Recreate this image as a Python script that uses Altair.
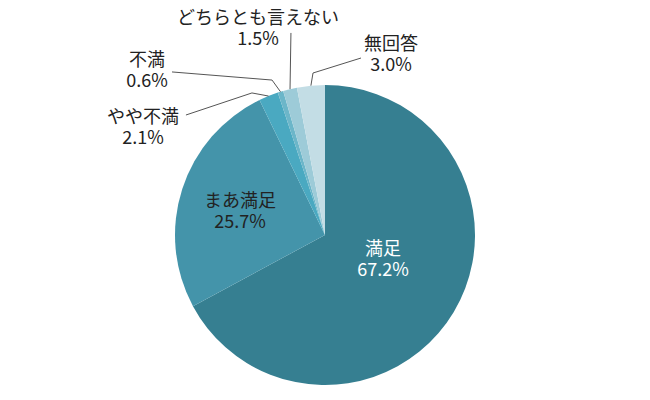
import math
import altair as alt
import pandas as pd

# ---- data ----
categories = ["満足", "まあ満足", "やや不満", "不満", "どちらとも言えない", "無回答"]
values = [67.2, 25.7, 2.1, 0.6, 1.5, 3.0]
pct_labels = ["67.2%", "25.7%", "2.1%", "0.6%", "1.5%", "3.0%"]

# ---- styling / layout (pie-radius units, y pointing down) ----
colors = ["#367f91", "#4494aa", "#4aa9c1", "#6cb6c9", "#9dcbd8", "#c3dde5"]
label_x = [0.387, -0.567, -1.213, -1.187, -0.447, 0.44]
label_y = [0.17, -0.15, -0.707, -1.093, -1.37, -1.197]
label_color = ["#ffffff", "#222222", "#222222", "#222222", "#222222", "#222222"]
# leader lines: elbow (None = straight) and end point, for outside labels
elbow_pts = {"やや不満": (-0.487, -0.947), "不満": (-0.353, -1.033), "無回答": (-0.08, -1.08)}
end_pts = {"やや不満": (-0.927, -0.8), "不満": (-1.02, -1.087),
           "どちらとも言えない": (-0.227, -1.347), "無回答": (0.24, -1.18)}

W, H = 650, 400
CX, CY, R = 325, 235, 150
FONT = "Noto Sans CJK JP"
FS = 18

df = pd.DataFrame({"cat": categories, "val": values, "order": range(len(categories)),
                   "pct": pct_labels, "lx": label_x, "ly": label_y, "tc": label_color})

# leader line points, starting on the pie edge at each slice's mid angle
total = sum(values)
rows = []
cum = 0.0
for c, v in zip(categories, values):
    mid = (cum + v / 2) / total * 2 * math.pi
    cum += v
    if c not in end_pts:
        continue
    pts = [(math.sin(mid), -math.cos(mid))]
    if c in elbow_pts:
        pts.append(elbow_pts[c])
    pts.append(end_pts[c])
    for i, (px, py) in enumerate(pts):
        rows.append({"cat": c, "i": i, "px": px, "py": py})
lines_df = pd.DataFrame(rows)

xs = alt.Scale(domain=[-CX / R, (W - CX) / R], zero=False, nice=False)
ys = alt.Scale(domain=[-CY / R, (H - CY) / R], zero=False, nice=False, reverse=True)

pie = alt.Chart(df).mark_arc(outerRadius=R).encode(
    theta=alt.Theta("val:Q", stack=True),
    order=alt.Order("order:Q"),
    color=alt.Color("cat:N", scale=alt.Scale(domain=categories, range=colors), legend=None),
    x=alt.value(CX),
    y=alt.value(CY),
)

leaders = alt.Chart(lines_df).mark_line(color="#555555", strokeWidth=1).encode(
    x=alt.X("px:Q", scale=xs, axis=None),
    y=alt.Y("py:Q", scale=ys, axis=None),
    detail="cat:N",
    order="i:Q",
)

names = alt.Chart(df).mark_text(font=FONT, fontSize=FS, dy=-10.5, align="center", baseline="middle").encode(
    x=alt.X("lx:Q", scale=xs, axis=None),
    y=alt.Y("ly:Q", scale=ys, axis=None),
    text="cat:N",
    color=alt.Color("tc:N", scale=None),
)
pcts = alt.Chart(df).mark_text(font=FONT, fontSize=FS, dy=10.5, align="center", baseline="middle").encode(
    x=alt.X("lx:Q", scale=xs, axis=None),
    y=alt.Y("ly:Q", scale=ys, axis=None),
    text="pct:N",
    color=alt.Color("tc:N", scale=None),
)

chart = alt.layer(pie, leaders, names, pcts).properties(
    width=W, height=H, autosize=alt.AutoSizeParams(type="none"), padding=0
).configure_view(stroke=None)

chart.save("out.html", embed_options={"renderer": "svg", "actions": False})
